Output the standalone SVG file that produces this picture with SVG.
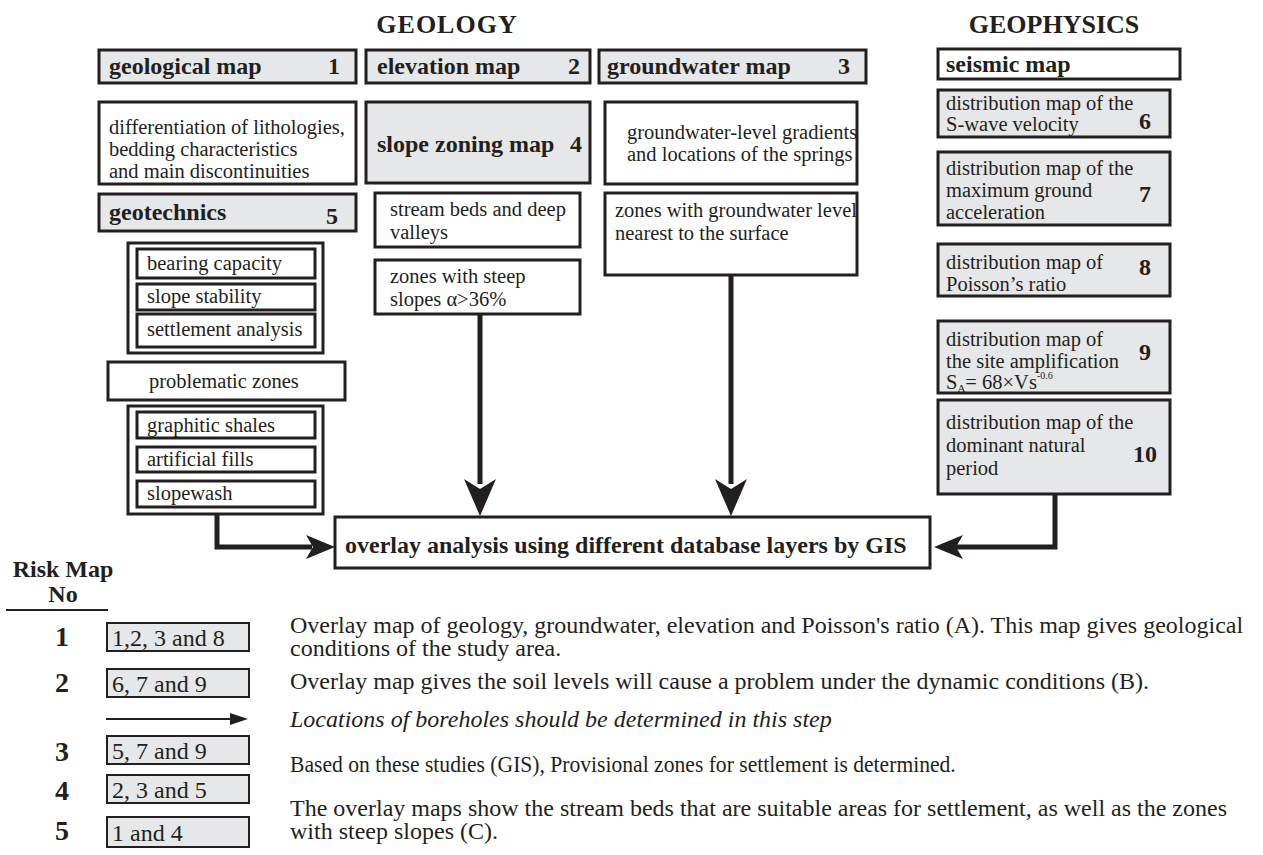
<svg xmlns="http://www.w3.org/2000/svg" width="1263" height="855" viewBox="0 0 1263 855">
<style>
.g{fill:#e6e7e8;stroke:#231f20;stroke-width:3}
.w{fill:#fff;stroke:#231f20;stroke-width:3}
.sb{fill:#e6e7e8;stroke:#231f20;stroke-width:2}
.t{font-family:"Liberation Serif","Times New Roman",serif;font-size:20.5px;fill:#231f20}
.h{font-family:"Liberation Serif","Times New Roman",serif;font-size:24px;font-weight:bold;fill:#231f20}
.ti{font-family:"Liberation Serif","Times New Roman",serif;font-size:26px;font-weight:bold;fill:#231f20}
.n{font-family:"Liberation Serif","Times New Roman",serif;font-size:28px;font-weight:bold;fill:#231f20}
.d{font-family:"Liberation Serif","Times New Roman",serif;font-size:24px;fill:#231f20}
.ln{stroke:#231f20;stroke-width:5;fill:none}
.ah{fill:#231f20;stroke:none}
</style>
<rect width="1263" height="855" fill="#fff"/>
<text class="ti" x="447" y="33" text-anchor="middle" letter-spacing="1">GEOLOGY</text>
<text class="ti" x="1054" y="33" text-anchor="middle">GEOPHYSICS</text>

<g id="geological-map"><rect class="g" x="99" y="50" width="257" height="33"/><text class="h" x="109" y="74">geological map</text><text class="h" x="340" y="74" text-anchor="end">1</text></g>
<g id="elevation-map"><rect class="g" x="366" y="50" width="224" height="33"/><text class="h" x="377" y="74">elevation map</text><text class="h" x="580" y="74" text-anchor="end">2</text></g>
<g id="groundwater-map"><rect class="g" x="599" y="50" width="267" height="33"/><text class="h" x="607" y="74">groundwater map</text><text class="h" x="850" y="74" text-anchor="end">3</text></g>
<g id="seismic-map"><rect class="w" x="938" y="49" width="242" height="30"/><text class="h" x="946" y="72">seismic map</text></g>

<g id="differentiation"><rect class="w" x="99" y="102" width="257" height="82"/><text class="t" x="109" y="134">differentiation of lithologies,</text><text class="t" x="109" y="156">bedding characteristics</text><text class="t" x="109" y="178">and main discontinuities</text></g>
<g id="slope-zoning-map"><rect class="g" x="366" y="102" width="224" height="81"/><text class="h" x="377" y="152">slope zoning map</text><text class="h" x="582" y="152" text-anchor="end">4</text></g>
<g id="gw-gradients"><rect class="w" x="605" y="102" width="252" height="82"/><text class="t" x="627" y="139">groundwater-level gradients</text><text class="t" x="627" y="161">and locations of the springs</text></g>

<g id="geotechnics"><rect class="g" x="99" y="194" width="257" height="37"/><text class="h" x="109" y="220">geotechnics</text><text class="h" x="338" y="224" text-anchor="end">5</text></g>
<g id="stream-beds"><rect class="w" x="375" y="193" width="205" height="54"/><text class="t" x="390" y="216">stream beds and deep</text><text class="t" x="390" y="239">valleys</text></g>
<g id="steep-slopes"><rect class="w" x="375" y="260" width="205" height="54"/><text class="t" x="390" y="283">zones with steep</text><text class="t" x="390" y="306">slopes α&gt;36%</text></g>
<g id="gw-nearest"><rect class="w" x="605" y="193" width="252" height="82"/><text class="t" x="615" y="217">zones with groundwater level</text><text class="t" x="615" y="240">nearest to the surface</text></g>

<g id="analyses"><rect class="w" x="128" y="243" width="195" height="110"/>
<rect class="w" x="137" y="249" width="178" height="29"/><text class="t" x="147" y="270">bearing capacity</text>
<rect class="w" x="137" y="284" width="178" height="26"/><text class="t" x="147" y="303">slope stability</text>
<rect class="w" x="137" y="314" width="178" height="33"/><text class="t" x="147" y="336">settlement analysis</text></g>
<g id="problematic-zones"><rect class="w" x="108" y="362" width="237" height="38"/><text class="t" x="149" y="388">problematic zones</text></g>
<g id="zones-list"><rect class="w" x="128" y="406" width="195" height="108"/>
<rect class="w" x="137" y="412" width="178" height="26"/><text class="t" x="147" y="432">graphitic shales</text>
<rect class="w" x="137" y="447" width="178" height="25"/><text class="t" x="147" y="466">artificial fills</text>
<rect class="w" x="137" y="481" width="178" height="26"/><text class="t" x="147" y="500">slopewash</text></g>

<g id="map6"><rect class="g" x="938" y="90" width="232" height="47"/><text class="t" x="946" y="110">distribution map of the</text><text class="t" x="946" y="131">S-wave velocity</text><text class="h" x="1145" y="129" text-anchor="middle">6</text></g>
<g id="map7"><rect class="g" x="938" y="152" width="232" height="73"/><text class="t" x="946" y="175">distribution map of the</text><text class="t" x="946" y="197">maximum ground</text><text class="t" x="946" y="219">acceleration</text><text class="h" x="1145" y="202" text-anchor="middle">7</text></g>
<g id="map8"><rect class="g" x="938" y="244" width="232" height="52"/><text class="t" x="946" y="269">distribution map of</text><text class="t" x="946" y="291">Poisson’s ratio</text><text class="h" x="1145" y="275" text-anchor="middle">8</text></g>
<g id="map9"><rect class="g" x="938" y="321" width="232" height="72"/><text class="t" x="946" y="346">distribution map of</text><text class="t" x="946" y="368">the site amplification</text><text class="t" x="946" y="389">S<tspan font-size="11" dy="3">A</tspan><tspan dy="-3">= 68×Vs</tspan><tspan font-size="10" dy="-10">-0.6</tspan></text><text class="h" x="1145" y="360" text-anchor="middle">9</text></g>
<g id="map10"><rect class="g" x="938" y="400" width="232" height="94"/><text class="t" x="946" y="429">distribution map of the</text><text class="t" x="946" y="452">dominant natural</text><text class="t" x="946" y="475">period</text><text class="h" x="1145" y="462" text-anchor="middle">10</text></g>

<g id="overlay"><rect class="w" x="335" y="517" width="595" height="51"/><text class="h" x="345" y="553">overlay analysis using different database layers by GIS</text></g>

<g id="connectors">
<path class="ln" d="M480,314 V484"/>
<path class="ah" d="M480,516 L464,479 L480,489 L496,479 Z"/>
<path class="ln" d="M731,275 V484"/>
<path class="ah" d="M731,516 L715,479 L731,489 L747,479 Z"/>
<path class="ln" d="M217,514 V547 H312"/>
<path class="ah" d="M335,547 L306,535 L313,547 L306,559 Z"/>
<path class="ln" d="M1055,494 V547 H956"/>
<path class="ah" d="M934,547 L963,535 L956,547 L963,559 Z"/>
</g>

<g id="risk-table">
<text class="h" x="63" y="577" text-anchor="middle">Risk Map</text>
<text class="h" x="63" y="602" text-anchor="middle">No</text>
<line x1="6" y1="610" x2="108" y2="610" stroke="#231f20" stroke-width="2"/>
<g id="risk1"><text class="n" x="62" y="646" text-anchor="middle">1</text><rect class="sb" x="107" y="623" width="142" height="28"/><text class="d" x="112" y="646">1,2, 3 and 8</text><text class="d" x="290" y="633">Overlay map of geology, groundwater, elevation and Poisson's ratio (A). This map gives geological</text><text class="d" x="290" y="656">conditions of the study area.</text></g>
<g id="risk2"><text class="n" x="62" y="692" text-anchor="middle">2</text><rect class="sb" x="107" y="669" width="142" height="28"/><text class="d" x="112" y="692">6, 7 and 9</text><text class="d" x="290" y="689">Overlay map gives the soil levels will cause a problem under the dynamic conditions (B).</text></g>
<g id="boreholes"><line x1="106" y1="719" x2="234" y2="719" stroke="#231f20" stroke-width="2"/><path class="ah" d="M248,719 L230,713 L230,725 Z"/><text class="d" x="290" y="727" font-style="italic">Locations of boreholes should be determined in this step</text></g>
<g id="risk3"><text class="n" x="62" y="761" text-anchor="middle">3</text><rect class="sb" x="107" y="736" width="142" height="28"/><text class="d" x="112" y="759">5, 7 and 9</text></g>
<g id="risk4"><text class="n" x="62" y="800" text-anchor="middle">4</text><rect class="sb" x="107" y="775" width="142" height="28"/><text class="d" x="112" y="798">2, 3 and 5</text></g>
<text class="d" transform="translate(290,772) scale(0.9,1)">Based on these studies (GIS), Provisional zones for settlement is determined.</text>
<g id="risk5"><text class="n" x="62" y="840" text-anchor="middle">5</text><rect class="sb" x="107" y="817" width="142" height="30"/><text class="d" x="112" y="841">1 and 4</text><text class="d" x="290" y="816">The overlay maps show the stream beds that are suitable areas for settlement, as well as the zones</text><text class="d" x="290" y="839">with steep slopes (C).</text></g>
</g>
</svg>
